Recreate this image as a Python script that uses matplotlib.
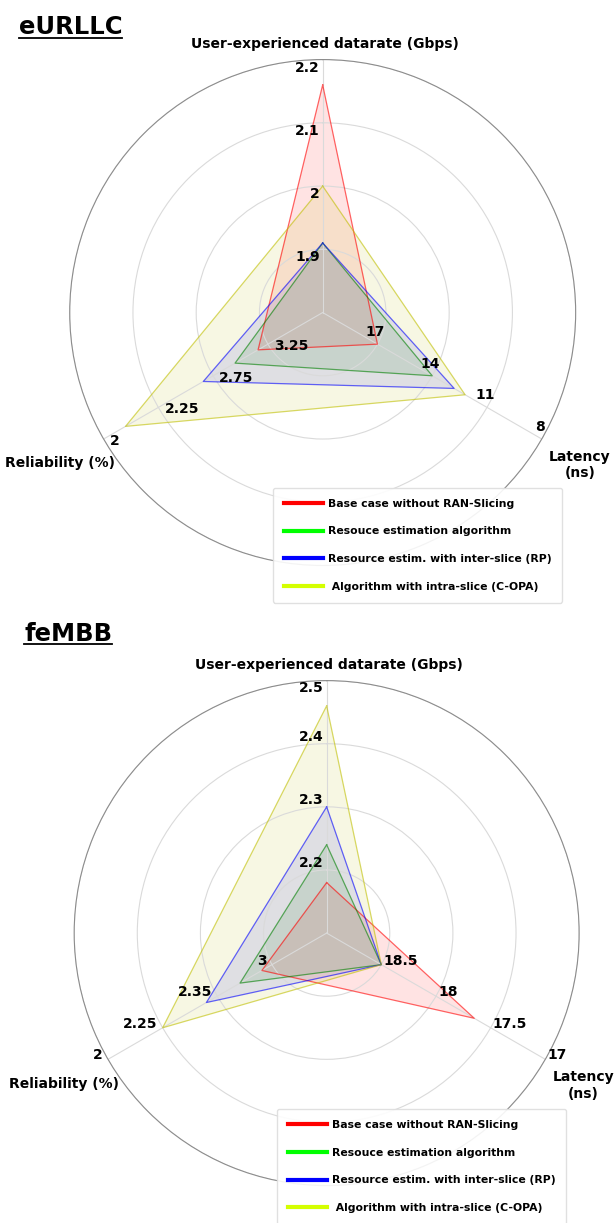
import numpy as np
import matplotlib; matplotlib.use("Agg")
import matplotlib.pyplot as plt
from matplotlib.lines import Line2D

plt.rcParams.update({"font.family": "DejaVu Sans", "font.weight": "bold"})

W, H, DPI = 615, 1223, 100

SERIES = ["Base case without RAN-Slicing", "Resouce estimation algorithm",
          "Resource estim. with inter-slice (RP)", " Algorithm with intra-slice (C-OPA)"]
POLY_COLORS = ["r", "g", "b", "y"]
LEG_COLORS = ["#ff0000", "#00ff00", "#0000ff", "#d4ff00"]
AXIS_NAMES = ["User-experienced datarate (Gbps)", "Reliability (%)", "Latency\n(ns)"]

# eURLLC slice: ticks are listed centre -> outer ring
URLLC_DR_TICKS = [1.8, 1.9, 2.0, 2.1, 2.2]
URLLC_REL_TICKS = [3.75, 3.25, 2.75, 2.25, 2.0]
URLLC_LAT_TICKS = [20, 17, 14, 11, 8]
URLLC_DR = [2.16, 1.91, 1.91, 2.0]
URLLC_REL = [3.16, 2.95, 2.66, 2.1]
URLLC_LAT = [17, 14, 12.8, 12.2]

# feMBB slice
EMBB_DR_TICKS = [2.1, 2.2, 2.3, 2.4, 2.5]
EMBB_REL_TICKS = [3.65, 3.0, 2.35, 2.25, 2.0]
EMBB_LAT_TICKS = [19, 18.5, 18, 17.5, 17]
EMBB_DR = [2.18, 2.24, 2.30, 2.46]
EMBB_REL = [2.88, 2.62, 2.33, 2.25]
EMBB_LAT = [17.65, 18.5, 18.5, 18.5]

ANGLES = np.deg2rad([0, 120, 240])


def to_ring(v, ticks):
    t = np.asarray(ticks, float)
    rings = np.arange(len(t))
    v = np.asarray(v, float)
    if t[0] > t[-1]:
        return np.interp(-v, -t, rings)
    return np.interp(v, t, rings)


def px(dx, dy):
    return (dx * 72 / DPI, dy * 72 / DPI)


def radar(fig, rect, ticks, values, lab_style, legend_anchor):
    ax = fig.add_axes(rect, polar=True)
    ax.set_theta_offset(np.pi / 2)
    ax.set_ylim(0, 4)
    ax.set_thetagrids(np.rad2deg(ANGLES), labels=["", "", ""])
    ax.set_rgrids([1, 2, 3, 4], labels=[""] * 4)
    ax.grid(True, color="#dadada", lw=0.8)
    ax.spines["polar"].set_color("#8c8c8c")
    ax.spines["polar"].set_linewidth(0.8)

    for k in range(4):
        r = [to_ring(values[a][k], ticks[a]) for a in range(3)]
        th = np.r_[ANGLES, ANGLES[0]]
        rr = np.r_[r, r[0]]
        ax.plot(th, rr, color=POLY_COLORS[k], lw=0.9, alpha=0.6)
        ax.fill(th, rr, color=POLY_COLORS[k], alpha=0.11, lw=0)

    # per-axis tick labels
    for a in range(3):
        ha, va, (dx, dy), flip_last = lab_style[a]
        for i, tv in enumerate(ticks[a][1:], start=1):
            oy = -dy if (flip_last and i == 4) else dy
            ax.annotate(f"{tv:g}", xy=(ANGLES[a], i), xytext=px(dx, oy),
                        textcoords="offset points", ha=ha, va=va,
                        fontsize=10, fontweight="bold", annotation_clip=False)

    ax.text(0.505, 1.03, AXIS_NAMES[0], transform=ax.transAxes, ha="center",
            va="center", fontsize=10, fontweight="bold")
    ax.text(-0.02, 0.202, AXIS_NAMES[1], transform=ax.transAxes, ha="center",
            va="center", fontsize=10, fontweight="bold")
    ax.text(1.008, 0.198, AXIS_NAMES[2], transform=ax.transAxes, ha="center",
            va="center", fontsize=10, fontweight="bold", multialignment="center")

    handles = [Line2D([], [], color=c, lw=3) for c in LEG_COLORS]
    fig.legend(handles, SERIES, loc="upper left", bbox_to_anchor=legend_anchor,
               bbox_transform=fig.transFigure, borderaxespad=0,
               prop={"size": 7.8, "weight": "bold"}, handlelength=3.6,
               handletextpad=0.5, labelspacing=1.63, borderpad=1.0,
               framealpha=0.9, edgecolor="#dddddd")
    return ax


def title(fig, x, y, s):
    t = fig.text(x, y, s, fontsize=17.5, fontweight="bold", va="baseline")
    fig.canvas.draw()
    bb = t.get_window_extent().transformed(fig.transFigure.inverted())
    yl = y - 3.5 / H
    fig.add_artist(Line2D([bb.x0, bb.x1], [yl, yl], color="black", lw=1.3,
                          transform=fig.transFigure))


fig = plt.figure(figsize=(W / DPI, H / DPI), dpi=DPI)

radar(fig, [0.1133, 0.5376, 0.8228, 0.4137],
      [URLLC_DR_TICKS, URLLC_REL_TICKS, URLLC_LAT_TICKS],
      [URLLC_DR, URLLC_REL, URLLC_LAT],
      [("right", "center", (-3, -8), False),
       ("left", "center", (6, -2), False),
       ("center", "center", (-2, 12), False)],
      (0.4434, 0.6010))

radar(fig, [0.1206, 0.0306, 0.8211, 0.4129],
      [EMBB_DR_TICKS, EMBB_REL_TICKS, EMBB_LAT_TICKS],
      [EMBB_DR, EMBB_REL, EMBB_LAT],
      [("right", "center", (-3, 7), True),
       ("right", "center", (-5, 4), False),
       ("left", "center", (2, 4), False)],
      (0.4499, 0.0930))

title(fig, 18.8 / W, 1 - 34.5 / H, "eURLLC")
title(fig, 24.3 / W, 1 - 640.6 / H, "feMBB")

fig.savefig("out.png", dpi=DPI)
